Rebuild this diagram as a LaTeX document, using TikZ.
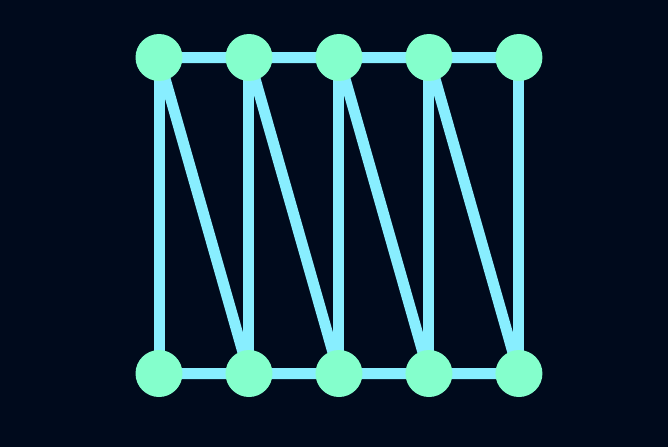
\documentclass[tikz,border=0pt]{standalone}
\usetikzlibrary{positioning}

\definecolor{night}{HTML}{000A1C}
\definecolor{mint}{HTML}{84FFCC}
\definecolor{sky}{HTML}{88EEFF}

\pgfdeclarelayer{bglayer}
\pgfdeclarelayer{edgelayer}
\pgfsetlayers{bglayer,edgelayer,main}

\begin{document}
\begin{tikzpicture}[x = 0.02cm, y = -0.02cm, on grid,
    vertex/.style = {circle, fill=mint, minimum size=0.94cm, inner sep=0pt},
    link/.style = {draw=sky, line width=0.22cm}]
  \begin{pgfonlayer}{bglayer}
    \fill[night] (0,0) rectangle (668,447);
  \end{pgfonlayer}

  \node[vertex] (t0) at (159,57.5) {};
  \node[vertex] (b0) at (159,373.5) {};
  \foreach \i [count=\j from 0] in {1,...,4} {
    \node[vertex] (t\i) [right=1.8cm of t\j] {};
    \node[vertex] (b\i) [right=1.8cm of b\j] {};
  }

  \begin{pgfonlayer}{edgelayer}
    \foreach \i [count=\j] in {0,...,3}
      \path[link] (t\i.center) -- (t\j.center)
                  (b\i.center) -- (b\j.center)
                  (t\i.center) -- (b\j.center);
    \foreach \i in {0,...,4}
      \path[link] (t\i.center) -- (b\i.center);
  \end{pgfonlayer}
\end{tikzpicture}
\end{document}
